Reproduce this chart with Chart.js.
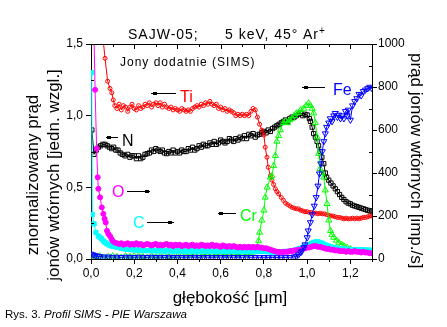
<!DOCTYPE html>
<html>
<head>
<meta charset="utf-8">
<script src="https://cdn.jsdelivr.net/npm/chart.js@4"></script>
<style>
  html, body { margin: 0; padding: 0; background: #ffffff; }
  canvas { display: block; }
</style>
</head>
<body>
<canvas id="sims" width="447" height="327"></canvas>
<script>
// SIMS depth profile, sample SAJW-05, 5 keV 45 deg Ar+ sputtering
// every series is [depth in um, normalised ion current]
var ti = [
  [0.050,1.62],[0.065,1.40],[0.077,1.24],[0.088,1.19],[0.096,1.16],[0.103,1.11],[0.110,1.07],[0.120,1.05],
  [0.130,1.08],[0.140,1.04],[0.150,1.07],[0.160,1.06],[0.170,1.03],[0.180,1.06],[0.190,1.08],[0.200,1.05],
  [0.210,1.04],[0.220,1.07],[0.230,1.05],[0.240,1.06],[0.250,1.08],[0.260,1.07],[0.270,1.09],[0.280,1.06],
  [0.290,1.08],[0.300,1.09],[0.310,1.07],[0.320,1.09],[0.330,1.06],[0.340,1.08],[0.350,1.06],[0.360,1.05],
  [0.370,1.06],[0.380,1.04],[0.390,1.05],[0.400,1.04],[0.410,1.03],[0.420,1.05],[0.430,1.04],[0.440,1.03],
  [0.450,1.04],[0.460,1.03],[0.470,1.05],[0.480,1.06],[0.490,1.07],[0.500,1.06],[0.510,1.08],[0.520,1.07],
  [0.530,1.09],[0.540,1.08],[0.550,1.10],[0.560,1.08],[0.570,1.07],[0.580,1.08],[0.590,1.05],[0.600,1.06],
  [0.610,1.04],[0.620,1.05],[0.630,1.03],[0.640,1.04],[0.650,1.03],[0.660,1.02],[0.670,1.00],[0.680,1.01],
  [0.690,1.00],[0.700,1.01],[0.710,1.00],[0.720,1.01],[0.730,1.00],[0.740,1.03],[0.750,1.05],[0.760,1.04],
  [0.770,0.99],[0.780,0.94],[0.790,0.90],[0.800,0.865],[0.806,0.78],[0.814,0.71],[0.820,0.64],[0.830,0.58],
  [0.837,0.55],[0.845,0.52],[0.853,0.49],[0.860,0.47],[0.868,0.455],[0.880,0.43],[0.890,0.41],[0.900,0.39],
  [0.910,0.38],[0.920,0.37],[0.930,0.36],[0.940,0.355],[0.950,0.35],[0.960,0.35],[0.970,0.34],[0.980,0.335],
  [0.990,0.33],[1.000,0.33],[1.010,0.325],[1.020,0.325],[1.030,0.32],[1.040,0.32],[1.050,0.315],[1.060,0.32],
  [1.070,0.315],[1.080,0.315],[1.090,0.31],[1.100,0.305],[1.110,0.30],[1.120,0.30],[1.130,0.295],[1.140,0.29],
  [1.150,0.29],[1.160,0.285],[1.170,0.28],[1.180,0.285],[1.190,0.28],[1.200,0.28],[1.210,0.285],[1.220,0.28],
  [1.230,0.285],[1.240,0.28],[1.250,0.285],[1.260,0.29],[1.270,0.29],[1.280,0.295],[1.290,0.30],[1.300,0.30]
];

var n = [
  [0.004,0.90],[0.014,0.73],[0.024,0.76],[0.034,0.78],[0.045,0.79],[0.055,0.80],[0.065,0.80],[0.075,0.79],
  [0.085,0.78],[0.096,0.77],[0.105,0.78],[0.115,0.76],[0.125,0.76],[0.135,0.74],[0.145,0.73],[0.157,0.72],
  [0.170,0.73],[0.180,0.71],[0.190,0.72],[0.200,0.72],[0.210,0.70],[0.220,0.72],[0.230,0.70],[0.240,0.71],
  [0.250,0.73],[0.260,0.735],[0.270,0.74],[0.280,0.76],[0.290,0.75],[0.300,0.77],[0.310,0.76],[0.320,0.75],
  [0.330,0.76],[0.340,0.74],[0.350,0.735],[0.360,0.75],[0.370,0.74],[0.380,0.76],[0.390,0.74],[0.400,0.75],
  [0.410,0.74],[0.420,0.76],[0.430,0.75],[0.440,0.75],[0.450,0.77],[0.460,0.76],[0.470,0.78],[0.480,0.76],
  [0.490,0.77],[0.500,0.79],[0.510,0.78],[0.520,0.80],[0.530,0.79],[0.540,0.79],[0.550,0.81],[0.560,0.80],
  [0.570,0.82],[0.580,0.80],[0.590,0.81],[0.600,0.83],[0.610,0.82],[0.620,0.81],[0.630,0.82],[0.640,0.84],
  [0.650,0.83],[0.660,0.82],[0.670,0.84],[0.680,0.83],[0.690,0.85],[0.700,0.84],[0.710,0.86],[0.720,0.84],
  [0.730,0.87],[0.740,0.86],[0.750,0.875],[0.760,0.85],[0.770,0.865],[0.780,0.87],[0.790,0.88],[0.800,0.89],
  [0.810,0.88],[0.820,0.90],[0.830,0.89],[0.840,0.91],[0.850,0.92],[0.860,0.93],[0.870,0.94],[0.880,0.95],
  [0.890,0.96],[0.900,0.97],[0.910,0.96],[0.920,0.98],[0.930,0.99],[0.940,0.99],[0.950,1.00],[0.960,1.01],
  [0.970,1.017],[0.980,1.00],[0.990,1.01],[1.000,1.005],[1.010,0.98],[1.015,0.96],[1.023,0.92],[1.030,0.875],
  [1.038,0.85],[1.046,0.82],[1.053,0.79],[1.060,0.75],[1.068,0.71],[1.077,0.665],[1.084,0.60],[1.090,0.57],
  [1.100,0.55],[1.110,0.53],[1.120,0.51],[1.130,0.49],[1.140,0.47],[1.150,0.45],[1.160,0.43],[1.170,0.415],
  [1.180,0.40],[1.190,0.39],[1.200,0.385],[1.210,0.375],[1.220,0.37],[1.230,0.365],[1.240,0.36],[1.250,0.355],
  [1.260,0.35],[1.270,0.345],[1.280,0.34],[1.290,0.335],[1.300,0.335]
];

var o = [
  [0.012,1.70],[0.019,1.18],[0.026,0.77],[0.031,0.57],[0.034,0.49],[0.042,0.43],[0.050,0.36],[0.057,0.315],
  [0.063,0.28],[0.068,0.255],[0.074,0.197],[0.080,0.175],[0.088,0.16],[0.095,0.14],[0.100,0.126],[0.110,0.115],
  [0.120,0.11],[0.130,0.105],[0.140,0.11],[0.150,0.10],[0.160,0.105],[0.170,0.11],[0.180,0.10],[0.190,0.105],
  [0.200,0.10],[0.210,0.11],[0.220,0.10],[0.230,0.105],[0.240,0.095],[0.250,0.10],[0.260,0.105],[0.270,0.10],
  [0.280,0.095],[0.290,0.10],[0.300,0.105],[0.310,0.095],[0.320,0.10],[0.330,0.095],[0.340,0.10],[0.350,0.105],
  [0.360,0.095],[0.370,0.10],[0.380,0.09],[0.390,0.10],[0.400,0.095],[0.410,0.10],[0.420,0.09],[0.430,0.095],
  [0.440,0.10],[0.450,0.09],[0.460,0.095],[0.470,0.10],[0.480,0.09],[0.490,0.095],[0.500,0.09],[0.510,0.10],
  [0.520,0.095],[0.530,0.09],[0.540,0.095],[0.550,0.09],[0.560,0.10],[0.570,0.09],[0.580,0.095],[0.590,0.09],
  [0.600,0.085],[0.610,0.095],[0.620,0.09],[0.630,0.085],[0.640,0.09],[0.650,0.085],[0.660,0.09],[0.670,0.085],
  [0.680,0.08],[0.690,0.085],[0.700,0.08],[0.710,0.085],[0.720,0.08],[0.730,0.085],[0.740,0.08],[0.750,0.085],
  [0.760,0.08],[0.770,0.085],[0.780,0.08],[0.790,0.08],[0.800,0.075],[0.810,0.075],[0.820,0.07],[0.830,0.065],
  [0.840,0.06],[0.850,0.055],[0.860,0.05],[0.870,0.05],[0.880,0.045],[0.890,0.05],[0.900,0.05],[0.910,0.05],
  [0.920,0.055],[0.930,0.055],[0.940,0.06],[0.950,0.06],[0.960,0.065],[0.970,0.065],[0.980,0.07],[0.990,0.075],
  [1.000,0.08],[1.010,0.08],[1.020,0.085],[1.030,0.09],[1.040,0.09],[1.050,0.085],[1.060,0.085],[1.070,0.08],
  [1.080,0.075],[1.090,0.07],[1.100,0.07],[1.110,0.065],[1.120,0.065],[1.130,0.06],[1.140,0.06],[1.150,0.055],
  [1.160,0.055],[1.170,0.055],[1.180,0.05],[1.190,0.055],[1.200,0.05],[1.210,0.05],[1.220,0.055],[1.230,0.05],
  [1.240,0.05],[1.250,0.045],[1.260,0.05],[1.270,0.045],[1.280,0.045],[1.290,0.04],[1.300,0.04]
];

var c = [
  [0.003,1.30],[0.006,0.31],[0.014,0.245],[0.023,0.185],[0.034,0.16],[0.042,0.15],[0.050,0.14],[0.058,0.125],
  [0.065,0.115],[0.072,0.11],[0.080,0.10],[0.088,0.095],[0.096,0.09],[0.104,0.088],[0.112,0.085],[0.120,0.082],
  [0.130,0.08],[0.140,0.075],[0.150,0.072],[0.160,0.07],[0.170,0.068],[0.180,0.066],[0.190,0.065],[0.200,0.064],
  [0.210,0.062],[0.220,0.063],[0.230,0.06],[0.240,0.062],[0.250,0.06],[0.260,0.058],[0.270,0.06],[0.280,0.057],
  [0.290,0.06],[0.300,0.058],[0.310,0.056],[0.320,0.06],[0.330,0.057],[0.340,0.055],[0.350,0.058],[0.360,0.056],
  [0.370,0.06],[0.380,0.055],[0.390,0.057],[0.400,0.056],[0.410,0.058],[0.420,0.055],[0.430,0.057],[0.440,0.054],
  [0.450,0.056],[0.460,0.058],[0.470,0.055],[0.480,0.057],[0.490,0.054],[0.500,0.056],[0.510,0.055],[0.520,0.057],
  [0.530,0.054],[0.540,0.056],[0.550,0.055],[0.560,0.053],[0.570,0.056],[0.580,0.054],[0.590,0.055],[0.600,0.053],
  [0.610,0.055],[0.620,0.054],[0.630,0.056],[0.640,0.053],[0.650,0.055],[0.660,0.054],[0.670,0.052],[0.680,0.055],
  [0.690,0.053],[0.700,0.054],[0.710,0.052],[0.720,0.054],[0.730,0.053],[0.740,0.055],[0.750,0.052],[0.760,0.053],
  [0.770,0.052],[0.780,0.054],[0.790,0.052],[0.800,0.053],[0.810,0.052],[0.820,0.05],[0.830,0.05],[0.840,0.048],
  [0.850,0.05],[0.860,0.048],[0.870,0.05],[0.880,0.05],[0.890,0.052],[0.900,0.05],[0.910,0.055],[0.920,0.055],
  [0.930,0.058],[0.940,0.06],[0.950,0.065],[0.960,0.07],[0.970,0.075],[0.980,0.08],[0.990,0.09],[1.000,0.095],
  [1.010,0.10],[1.020,0.11],[1.030,0.115],[1.040,0.12],[1.050,0.12],[1.060,0.115],[1.070,0.11],[1.080,0.10],
  [1.090,0.095],[1.100,0.09],[1.110,0.085],[1.120,0.08],[1.130,0.078],[1.140,0.075],[1.150,0.072],[1.160,0.07],
  [1.170,0.07],[1.180,0.068],[1.190,0.067],[1.200,0.065],[1.210,0.066],[1.220,0.065],[1.230,0.064],[1.240,0.065],
  [1.250,0.063],[1.260,0.064],[1.270,0.063],[1.280,0.062],[1.290,0.062],[1.300,0.06]
];

var cr = [
  [0.000,0.02],[0.020,0.015],[0.040,0.02],[0.060,0.01],[0.080,0.015],[0.100,0.02],[0.120,0.015],[0.140,0.01],
  [0.160,0.02],[0.180,0.015],[0.200,0.02],[0.220,0.02],[0.240,0.015],[0.260,0.01],[0.280,0.02],[0.300,0.015],
  [0.320,0.02],[0.340,0.025],[0.360,0.015],[0.380,0.02],[0.400,0.02],[0.420,0.025],[0.440,0.02],[0.460,0.03],
  [0.480,0.025],[0.500,0.02],[0.520,0.03],[0.540,0.035],[0.560,0.025],[0.580,0.03],[0.600,0.035],[0.620,0.03],
  [0.640,0.025],[0.660,0.035],[0.680,0.03],[0.700,0.04],[0.720,0.03],[0.740,0.045],[0.760,0.06],[0.775,0.126],
  [0.780,0.185],[0.790,0.27],[0.800,0.34],[0.806,0.43],[0.815,0.50],[0.830,0.57],[0.837,0.58],[0.845,0.65],
  [0.853,0.72],[0.860,0.82],[0.868,0.86],[0.876,0.90],[0.890,0.95],[0.900,0.96],[0.910,0.95],[0.920,0.97],
  [0.930,0.98],[0.940,1.00],[0.950,1.017],[0.960,1.02],[0.970,1.04],[0.984,1.05],[0.995,1.07],[1.007,1.087],
  [1.015,1.07],[1.023,1.05],[1.030,1.017],[1.038,0.95],[1.046,0.85],[1.053,0.735],[1.060,0.63],[1.068,0.60],
  [1.077,0.57],[1.084,0.48],[1.092,0.385],[1.100,0.27],[1.108,0.197],[1.115,0.17],[1.123,0.15],[1.135,0.13],
  [1.146,0.115],[1.160,0.10],[1.170,0.09],[1.185,0.08],[1.200,0.07],[1.220,0.06],[1.246,0.056],[1.270,0.05],
  [1.290,0.05]
];

var fe = [
  [0.000,0.035],[0.010,0.03],[0.020,0.025],[0.030,0.02],[0.040,0.018],[0.060,0.015],[0.080,0.015],[0.100,0.013],
  [0.120,0.014],[0.140,0.012],[0.160,0.014],[0.180,0.013],[0.200,0.012],[0.220,0.014],[0.240,0.013],[0.260,0.012],
  [0.280,0.014],[0.300,0.012],[0.320,0.013],[0.340,0.012],[0.360,0.014],[0.380,0.012],[0.400,0.013],[0.420,0.012],
  [0.440,0.013],[0.460,0.012],[0.480,0.014],[0.500,0.012],[0.520,0.013],[0.540,0.012],[0.560,0.013],[0.580,0.012],
  [0.600,0.013],[0.620,0.012],[0.640,0.014],[0.660,0.012],[0.680,0.013],[0.700,0.012],[0.720,0.013],[0.740,0.012],
  [0.760,0.012],[0.780,0.011],[0.800,0.012],[0.820,0.011],[0.840,0.01],[0.860,0.011],[0.880,0.01],[0.900,0.011],
  [0.920,0.012],[0.940,0.015],[0.950,0.02],[0.960,0.03],[0.970,0.045],[0.976,0.056],[0.985,0.08],[0.990,0.10],
  [1.000,0.15],[1.005,0.197],[1.015,0.255],[1.023,0.31],[1.033,0.37],[1.042,0.43],[1.050,0.51],[1.057,0.595],
  [1.063,0.665],[1.070,0.75],[1.077,0.82],[1.084,0.875],[1.090,0.92],[1.100,0.95],[1.107,0.98],[1.115,0.96],
  [1.123,1.00],[1.130,1.017],[1.140,0.99],[1.146,1.005],[1.154,0.98],[1.160,1.00],[1.170,0.98],[1.177,1.03],
  [1.185,1.00],[1.190,1.04],[1.200,0.97],[1.210,1.07],[1.220,1.10],[1.230,1.12],[1.240,1.15],[1.250,1.14],
  [1.260,1.17],[1.270,1.18],[1.280,1.19],[1.290,1.20],[1.300,1.19]
];

var depthTicks = [0.0, 0.2, 0.4, 0.6, 0.8, 1.0, 1.2];
var FONT = "'Liberation Sans', Arial, sans-serif";

function points(pairs) {
  return pairs.map(function(p) { return { x: p[0], y: p[1] }; });
}

function series(label, pairs, color, style, radius, filled, rotation) {
  return {
    label: label,
    data: points(pairs),
    showLine: true,
    borderColor: color,
    borderWidth: 1,
    backgroundColor: color,
    pointStyle: style,
    pointRadius: radius,
    pointRotation: rotation || 0,
    pointBorderColor: color,
    pointBorderWidth: 1,
    pointBackgroundColor: filled ? color : 'rgba(0,0,0,0)',
    yAxisID: 'y'
  };
}

function comma(v) {
  return v.toFixed(1).replace('.', ',');
}

function label(ctx, str, x, y, size, color, extra) {
  extra = extra || {};
  ctx.font = (extra.italic ? 'italic ' : '') + size + 'px ' + FONT;
  ctx.fillStyle = color;
  ctx.textAlign = extra.align || 'left';
  ctx.textBaseline = 'alphabetic';
  ctx.letterSpacing = extra.spacing || '0px';
  ctx.fillText(str, x, y);
  var w = ctx.measureText(str).width;
  ctx.letterSpacing = '0px';
  return w;
}

// little pointer used next to each element name
function pointer(ctx, x1, x2, y, dotX, color) {
  ctx.strokeStyle = color;
  ctx.fillStyle = color;
  ctx.lineWidth = 1;
  ctx.beginPath();
  ctx.moveTo(x1, y + 0.5);
  ctx.lineTo(x2, y + 0.5);
  ctx.stroke();
  ctx.fillRect(dotX - 2, y - 1, 4, 3);
}

var decorations = {
  id: 'decorations',
  afterDraw: function(chart) {
    var ctx = chart.ctx;
    var a = chart.chartArea;
    var x = chart.scales.x, y = chart.scales.y, y2 = chart.scales.y2;
    ctx.save();
    ctx.strokeStyle = '#000';
    ctx.lineWidth = 1;

    // top frame with inward ticks
    ctx.beginPath();
    ctx.moveTo(a.left, a.top + 0.5);
    ctx.lineTo(a.right, a.top + 0.5);
    for (var i = 0; i <= 13; i++) {
      var px = Math.round(x.getPixelForValue(i / 10)) + 0.5;
      var len = (i % 2 === 0) ? 5 : 3;
      ctx.moveTo(px, a.top);
      ctx.lineTo(px, a.top + len);
      // minor ticks under the bottom axis
      if (i % 2 === 1) {
        ctx.moveTo(px, a.bottom);
        ctx.lineTo(px, a.bottom + 3);
      }
    }
    // minor ticks inside on the left and right axes
    [0.25, 0.75, 1.25].forEach(function(v) {
      var py = Math.round(y.getPixelForValue(v)) + 0.5;
      ctx.moveTo(a.left, py);
      ctx.lineTo(a.left + 3, py);
    });
    [100, 300, 500, 700, 900].forEach(function(v) {
      var py = Math.round(y2.getPixelForValue(v)) + 0.5;
      ctx.moveTo(a.right, py);
      ctx.lineTo(a.right - 3, py);
    });
    ctx.stroke();

    // title
    label(ctx, 'SAJW-05;', 128, 39, 14, '#000', { spacing: '1px' });
    var w = label(ctx, '5 keV, 45', 225, 39, 14, '#000', { spacing: '1px' });
    label(ctx, '°', 225 + w, 39, 14, '#000');
    var aw = label(ctx, 'Ar', 303, 39, 14, '#000', { spacing: '1px' });
    label(ctx, '+', 303 + aw, 34, 10, '#000');

    label(ctx, 'Jony dodatnie (SIMS)', 120, 66, 12, '#000', { spacing: '1px' });

    // element names
    label(ctx, 'Ti', 180, 102, 16, '#ff0000');
    pointer(ctx, 151, 176, 93, 155, '#000');
    label(ctx, 'N', 122, 146, 16, '#000');
    pointer(ctx, 106, 118, 137, 109, '#000');
    label(ctx, 'O', 112, 197, 16, '#ff00ff');
    pointer(ctx, 127, 150, 191, 147, '#000');
    label(ctx, 'C', 133, 228, 16, '#00ffff');
    pointer(ctx, 147, 174, 222, 170, '#000');
    label(ctx, 'Cr', 240, 221, 16, '#00ff00');
    pointer(ctx, 218, 236, 213, 221, '#000');
    label(ctx, 'Fe', 333, 95, 16, '#0000ff');
    pointer(ctx, 302, 325, 87, 306, '#000');

    // axis titles
    label(ctx, 'głębokość [μm]', 230, 303, 17, '#000', { align: 'center' });

    ctx.save();
    ctx.translate(38, 175);
    ctx.rotate(-Math.PI / 2);
    label(ctx, 'znormalizowany prąd', 0, 0, 17, '#000', { align: 'center' });
    ctx.restore();
    ctx.save();
    ctx.translate(59, 175);
    ctx.rotate(-Math.PI / 2);
    label(ctx, 'jonów wtórnych [jedn. wzgl.]', 0, 0, 17, '#000', { align: 'center' });
    ctx.restore();

    ctx.save();
    ctx.translate(411, 53);
    ctx.rotate(Math.PI / 2);
    label(ctx, 'prąd jonów wtórnych [imp./s]', 0, 0, 17, '#000');
    ctx.restore();

    // caption
    var cw = label(ctx, 'Rys. 3. ', 5, 318, 11.5, '#000');
    label(ctx, 'Profil SIMS - PIE Warszawa', 5 + cw, 318, 11.5, '#000', { italic: true });

    ctx.restore();
  }
};

var axisGrid = { drawOnChartArea: false, drawTicks: true, tickLength: 5, color: '#000' };
var tickFont = { family: FONT, size: 12 };

new Chart(document.getElementById('sims'), {
  type: 'scatter',
  data: {
    datasets: [
      series('Fe', fe, '#0000ff', 'triangle', 3.5, false, 180),
      series('O', o, '#ff00ff', 'circle', 2.5, true),
      series('C', c, '#00ffff', 'rect', 3, true),
      series('Cr', cr, '#00ff00', 'triangle', 3.5, false),
      series('Ti', ti, '#ff0000', 'circle', 2, false),
      series('N', n, '#000000', 'rect', 3, false)
    ]
  },
  options: {
    responsive: false,
    animation: false,
    devicePixelRatio: 1,
    layout: { padding: { top: 44, left: 0, right: 0, bottom: 0 } },
    plugins: {
      legend: { display: false },
      tooltip: { enabled: false },
      title: { display: false }
    },
    scales: {
      x: {
        type: 'linear',
        position: 'bottom',
        min: 0,
        max: 1.3,
        afterBuildTicks: function(scale) {
          scale.ticks = depthTicks.map(function(v) { return { value: v }; });
        },
        afterFit: function(scale) { scale.height = 68; },
        ticks: {
          callback: function(v) { return comma(v); },
          font: tickFont,
          color: '#000',
          padding: 2,
          maxRotation: 0,
          autoSkip: false
        },
        grid: axisGrid,
        border: { color: '#000', width: 1 }
      },
      y: {
        position: 'left',
        min: 0,
        max: 1.5,
        afterFit: function(scale) { scale.width = 91; },
        ticks: {
          stepSize: 0.5,
          callback: function(v) { return comma(v); },
          font: tickFont,
          color: '#000',
          padding: 3
        },
        grid: axisGrid,
        border: { color: '#000', width: 1 }
      },
      y2: {
        position: 'right',
        min: 0,
        max: 1000,
        afterFit: function(scale) { scale.width = 75; },
        ticks: {
          stepSize: 200,
          callback: function(v) { return String(v); },
          font: tickFont,
          color: '#000',
          padding: 1
        },
        grid: axisGrid,
        border: { color: '#000', width: 1 }
      }
    }
  },
  plugins: [decorations]
});
</script>
</body>
</html>
